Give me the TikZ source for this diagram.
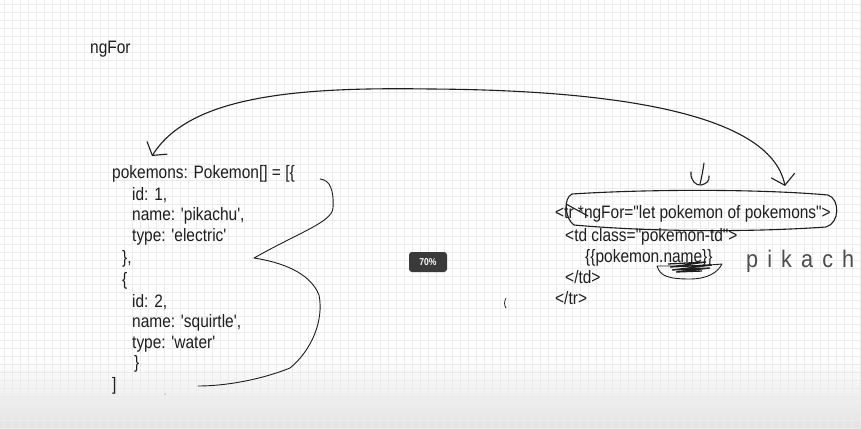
\documentclass[tikz,border=0pt]{standalone}
\usepackage{fontspec}
\setmainfont{Liberation Sans}[FakeStretch=0.86, Ligatures=TeXOff]
\newfontfamily\handfont{Liberation Sans}[LetterSpace=38, FakeStretch=0.9, Ligatures=TeXOff]
\usetikzlibrary{arrows.meta}
\definecolor{ink}{HTML}{1E1E1E}
\definecolor{gridc}{HTML}{EBEBEB}
\definecolor{badge}{HTML}{3A3A3A}
\tikzset{
  code/.style={anchor=base west, inner sep=0pt, text=ink, font=\fontsize{18}{20}\selectfont},
  pen/.style={draw=ink, line width=1.1pt, line cap=round, line join=round},
}
\begin{document}
\begin{tikzpicture}[x=1pt,y=-1pt]
\useasboundingbox (0,0) rectangle (861,428);
% background
\fill[white] (0,0) rectangle (861,428);
\shade[top color=white, bottom color=black!11] (0,355) rectangle (861,428);
\foreach \gx in {4,12,...,860} {\draw[gridc, line width=0.8pt] (\gx,0) -- (\gx,428);}
\foreach \gy in {4,12,...,428} {\draw[gridc, line width=0.8pt] (0,\gy) -- (861,\gy);}

% title
\node[code] (title) at (90,54) {ngFor};

% left code block
\node[code] (l1) at (112,178) {pokemons: Pokemon[] = [\{};
\node[code] (l2) at (132,200) {id: 1,};
\node[code] (l3) at (132,220) {name: 'pikachu',};
\node[code] (l4) at (132,241) {type: 'electric'};
\node[code] (l5) at (122,263) {\},};
\node[code] (l6) at (122,285) {\{};
\node[code] (l7) at (132,307) {id: 2,};
\node[code] (l8) at (132,327) {name: 'squirtle',};
\node[code] (l9) at (132,348) {type: 'water'};
\node[code] (l10) at (134,368) {\}};
\node[code] (l11) at (112,390) {]};

% right code block
\node[code] (r1) at (555,218) {<tr *ngFor="let pokemon of pokemons">};
\node[code] (r2) at (565,241) {<td class="pokemon-td">};
\node[code] (r3) at (585,262) {\{\{pokemon.name\}\}};
\node[code] (r4) at (565,283) {</td>};
\node[code] (r5) at (555,304) {</tr>};

% oval around first line
\draw[pen] (572,194) .. controls (650,189) and (760,189) .. (828,195)
  .. controls (840,199) and (840,223) .. (826,227)
  .. controls (740,233) and (640,231) .. (574,225)
  .. controls (565,219) and (563,198) .. (572,194);
\draw[pen] (566,204) -- (588,216);

% big double arrow
\coordinate (ltip) at (152,156);
\coordinate (rtip) at (785,186);
\draw[pen, {Straight Barb[length=9pt, width=24pt]}-{Straight Barb[length=10pt, width=24pt]}]
  (ltip) .. controls (190,95) and (300,87) .. (430,89)
  .. controls (600,90) and (770,110) .. (rtip);

% small down arrow mark
\draw[pen] (704,163) .. controls (703,170) and (702,176) .. (700,184);
\draw[pen] (691,172) .. controls (690,180) and (696,186) .. (701,185)
  .. controls (706,184) and (710,181) .. (709,176);

% big right brace (freehand)
\draw[pen, line width=0.9pt] (320,179) .. controls (330,180) and (334,190) .. (333,208)
  .. controls (332,222) and (300,232) .. (254,258)
  .. controls (280,262) and (310,272) .. (319,295)
  .. controls (324,320) and (312,350) .. (290,368)
  .. controls (260,380) and (225,386) .. (198,386);

% scribble under pokemon.name
\draw[pen, line width=0.9pt] (657,266) .. controls (660,276) and (668,279) .. (690,279)
  .. controls (708,279) and (718,272) .. (722,264) .. controls (700,266) and (680,266) .. (657,266);
\draw[ink, line width=1.3pt] (668,264) -- (706,262) -- (670,267) -- (712,265) -- (672,270) -- (710,268) -- (676,272) -- (702,271);

% handwritten "pikach"
\node[anchor=base west, inner sep=0pt, text=black!70, font=\handfont\fontsize{24}{26}\selectfont] (hw) at (746,267) {pikach};

% small marks
\draw[ink, line width=0.7pt] (506,298) .. controls (504,302) and (504,305) .. (506,308);
\fill[ink!60] (165,394) circle (0.7);

% zoom badge
\node[fill=badge, rounded corners=3pt, text=white, font=\bfseries\fontsize{10}{11}\selectfont,
  minimum width=38pt, minimum height=20pt, inner sep=0pt] (badgebox) at (428,262) {70\%};
\end{tikzpicture}
\end{document}
